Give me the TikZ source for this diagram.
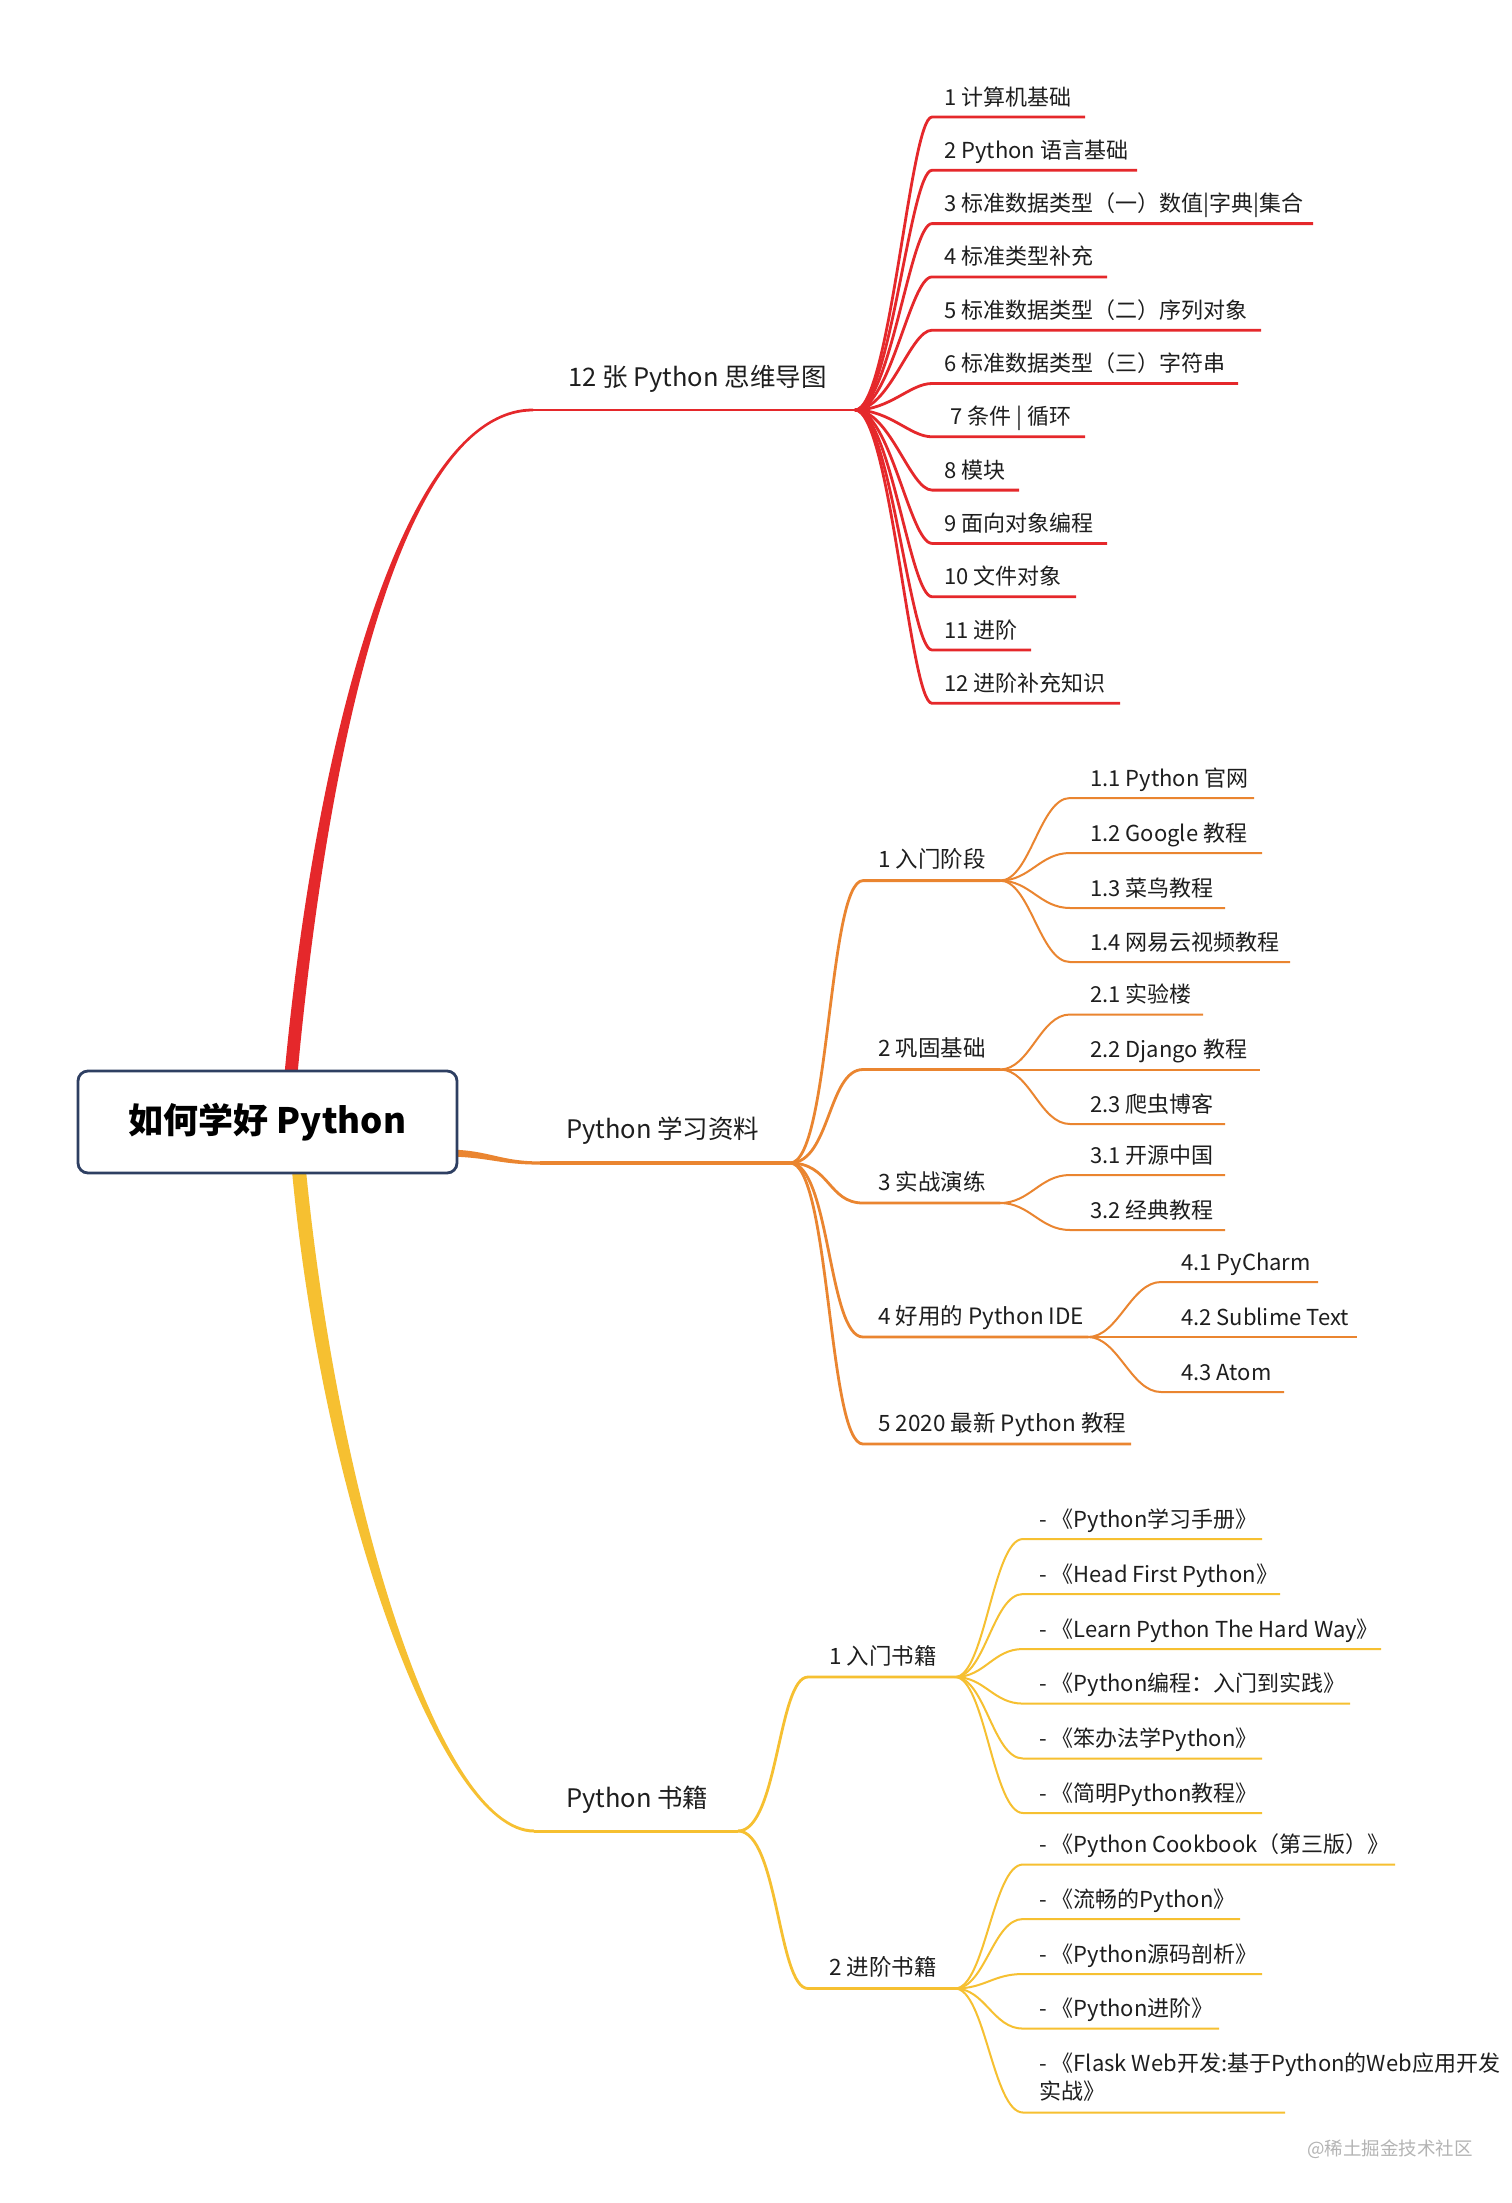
\documentclass[tikz,border=0pt]{standalone}
\usepackage{fontspec}
\setmainfont{Noto Sans CJK SC}
\definecolor{cred}{HTML}{E5282B}
\definecolor{corange}{HTML}{EA8530}
\definecolor{cyellow}{HTML}{F6C031}
\definecolor{cnavy}{HTML}{2E3F62}
\definecolor{ctext}{HTML}{1E1E1E}
\definecolor{cwm}{HTML}{B4B4B4}
\begin{document}
\begin{tikzpicture}[x=1pt,y=-1pt,
  txt/.style={anchor=base west, inner sep=0pt, text=ctext},
  leaf/.style={txt, font=\fontsize{22}{28}\selectfont},
  midl/.style={txt, font=\fontsize{22.5}{28}\selectfont},
  topic/.style={txt, font=\fontsize{25.5}{30}\selectfont},
  rootbox/.style={draw=cnavy, line width=2.8pt, fill=white, rounded corners=10pt,
    minimum width=379pt, minimum height=102pt, inner sep=0pt, text=black,
    font=\bfseries\fontsize{35}{42}\selectfont},
  rl/.style={draw=cred, line width=2.8pt},
  ol2/.style={draw=corange, line width=2.8pt},
  ol3/.style={draw=corange, line width=2pt},
  yl2/.style={draw=cyellow, line width=2.8pt},
  yl3/.style={draw=cyellow, line width=2pt},
]
\useasboundingbox (0,0) rectangle (1512,2203);
\fill[white] (0,0) rectangle (1512,2203);

% ---- main branches (tapered) ----
\fill[cred] (283.5,1085) .. controls (313.5,750) and (400,408.6) .. (533,408.6)
  -- (533,411.4) .. controls (400,411.4) and (326.5,750) .. (296.5,1085) -- cycle;
\fill[corange] (450,1149.5) .. controls (490,1150.5) and (500,1161.4) .. (540,1161.4)
  -- (540,1164.6) .. controls (500,1164.6) and (490,1157.5) .. (450,1156.5) -- cycle;
\fill[cyellow] (291,1160) .. controls (321,1500) and (440,1832.5) .. (534,1832.5)
  -- (534,1829.5) .. controls (440,1829.5) and (337,1500) .. (305,1160) -- cycle;

\node[rootbox] (root) at (267.5,1122) {如何学好 Python};

% ---- red branch ----
\coordinate (rbeg) at (533,410);
\coordinate (rhub) at (855,410);
\draw[rl] (rbeg) -- (rhub);
\node[topic] (rtopic) at (568,386) {12 张 Python 思维导图};
\foreach \i/\e/\t in {1/1085/{1 计算机基础}, 2/1137/{2 Python 语言基础},
  3/1313/{3 标准数据类型（一）数值|字典|集合}, 4/1107/{4 标准类型补充},
  5/1261/{5 标准数据类型（二）序列对象}, 6/1238/{6 标准数据类型（三）字符串},
  7/1085/{\hspace*{6pt}7 条件 | 循环}, 8/1019/{8 模块}, 9/1107/{9 面向对象编程},
  10/1076/{10 文件对象}, 11/1031/{11 进阶}, 12/1120/{12 进阶补充知识}} {
  \pgfmathsetmacro\yy{117+53.3*(\i-1)}
  \coordinate (rs\i) at (932,\yy);
  \coordinate (re\i) at (\e,\yy);
  \draw[rl] (rhub) .. controls +(35,0) and +(-22,0) .. (rs\i) -- (re\i);
  \node[leaf] (r\i) at (944,\yy-12) {\t};
}

% ---- orange branch ----
\coordinate (obeg) at (540,1163);
\coordinate (ohub) at (790,1163);
\draw[ol2, line width=3.2pt] (obeg) -- (ohub);
\node[topic] (otopic) at (566,1138) {Python 学习资料};
\foreach \i/\y/\h/\t in {1/880.6/1000/{1 入门阶段}, 2/1069.5/1000/{2 巩固基础},
  3/1203/1000/{3 实战演练}, 4/1337/1088/{4 好用的 Python IDE},
  5/1444/1131/{5 2020 最新 Python 教程}} {
  \coordinate (os\i) at (863,\y);
  \coordinate (oh\i) at (\h,\y);
  \draw[ol2] (ohub) .. controls +(40,0) and +(-35,0) .. (os\i) -- (oh\i);
  \node[midl] (o\i) at (878,\y-13) {\t};
}
\foreach \g/\j/\y/\s/\e/\t in {1/1/798/1070/1254/{1.1 Python 官网},
  1/2/853/1070/1262/{1.2 Google 教程}, 1/3/908/1070/1225/{1.3 菜鸟教程},
  1/4/962/1070/1290/{1.4 网易云视频教程}, 2/1/1014.5/1070/1203/{2.1 实验楼},
  2/2/1069.5/1070/1260/{2.2 Django 教程}, 2/3/1124/1070/1225/{2.3 爬虫博客},
  3/1/1175/1070/1225/{3.1 开源中国}, 3/2/1230/1070/1225/{3.2 经典教程},
  4/1/1282/1161/1318/{4.1 PyCharm}, 4/2/1337/1161/1357/{4.2 Sublime Text},
  4/3/1392/1161/1284/{4.3 Atom}} {
  \coordinate (ols\g-\j) at (\s,\y);
  \coordinate (ole\g-\j) at (\e,\y);
  \draw[ol3] (oh\g) .. controls +(30,0) and +(-30,0) .. (ols\g-\j) -- (ole\g-\j);
  \node[leaf] (ot\g-\j) at (\s+20,\y-12) {\t};
}

% ---- yellow branch ----
\coordinate (ybeg) at (534,1831);
\coordinate (yhub) at (738,1831);
\draw[yl2, line width=3pt] (ybeg) -- (yhub);
\node[topic] (ytopic) at (566,1807) {Python 书籍};
\foreach \i/\y/\t in {1/1677/{1 入门书籍}, 2/1988.5/{2 进阶书籍}} {
  \coordinate (ys\i) at (808,\y);
  \coordinate (yh\i) at (955,\y);
  \draw[yl2] (yhub) .. controls +(40,0) and +(-30,0) .. (ys\i) -- (yh\i);
  \node[midl] (y\i) at (829,\y-13) {\t};
}
\foreach \g/\j/\y/\e/\t in {1/1/1539/1262/{-~《Python学习手册》},
  1/2/1594/1280/{-~《Head First Python》}, 1/3/1649/1381/{-~《Learn Python The Hard Way》},
  1/4/1703.6/1350/{-~《Python编程：入门到实践》}, 1/5/1758.5/1262/{-~《笨办法学Python》},
  1/6/1813/1262/{-~《简明Python教程》}, 2/1/1864.5/1395/{-~《Python Cookbook（第三版）》},
  2/2/1919/1240/{-~《流畅的Python》}, 2/3/1974/1262/{-~《Python源码剖析》},
  2/4/2028.6/1219/{-~《Python进阶》}} {
  \coordinate (yls\g-\j) at (1023,\y);
  \coordinate (yle\g-\j) at (\e,\y);
  \draw[yl3] (yh\g) .. controls +(30,0) and +(-30,0) .. (yls\g-\j) -- (yle\g-\j);
  \node[leaf] (yt\g-\j) at (1039,\y-12) {\t};
}
\coordinate (yls2-5) at (1023,2112.5);
\coordinate (yle2-5) at (1285,2112.5);
\draw[yl3] (yh2) .. controls +(30,0) and +(-30,0) .. (yls2-5) -- (yle2-5);
\node[leaf, align=left] (yt2-5) at (1039,2099) {-~《Flask Web开发:基于Python的Web应用开发\\实战》};

% watermark
\node[anchor=base west, inner sep=0pt, text=cwm, font=\fontsize{18.5}{22}\selectfont] (wm) at (1307,2155) {@稀土掘金技术社区};
\end{tikzpicture}
\end{document}
